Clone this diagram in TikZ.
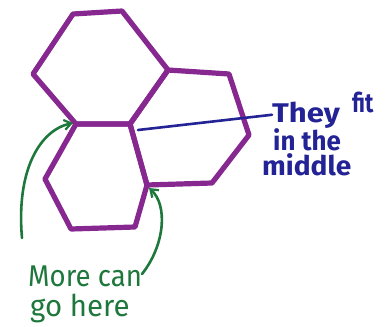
\documentclass[tikz,border=0pt]{standalone}
\usepackage{fontspec}
\setmainfont{Fira Sans}
\usetikzlibrary{arrows.meta}
\definecolor{hexpurple}{RGB}{135,40,145}
\definecolor{penblue}{RGB}{35,35,150}
\definecolor{pengreen}{RGB}{30,120,60}
\tikzset{
  hexline/.style={draw=hexpurple, line width=5.2pt, line join=round, line cap=round},
  bluepen/.style={draw=penblue, line width=2.6pt, line cap=round},
  greenpen/.style={draw=pengreen, line width=2.6pt, line cap=round, -{Straight Barb[length=7pt,width=10pt,line width=2.2pt]}},
  bluetext/.style={text=penblue, font=\fontsize{27}{27}\selectfont\bfseries, inner sep=0pt, anchor=base west},
  greentext/.style={text=pengreen, font=\fontsize{30}{30}\selectfont, inner sep=0pt, anchor=base west}
}
\begin{document}
\begin{tikzpicture}[x=1pt,y=-1pt]
\useasboundingbox (0,0) rectangle (386,327);
% shared vertices
\coordinate (a) at (73,14);
\coordinate (b) at (122,11);
\coordinate (c) at (168,70);
\coordinate (d) at (130,124);
\coordinate (e) at (76,124);
\coordinate (f) at (33,74);
\coordinate (g) at (229,74);
\coordinate (h) at (249,135);
\coordinate (i) at (212,183);
\coordinate (j) at (147,185);
\coordinate (k) at (135,227);
\coordinate (l) at (71,229);
\coordinate (m) at (45,179);
% hexagons
\draw[hexline] (a) -- (b) -- (c) -- (d) -- (e) -- (f) -- cycle;
\draw[hexline] (c) -- (g) -- (h) -- (i) -- (j) -- (d) -- cycle;
\draw[hexline] (e) -- (d) -- (j) -- (k) -- (l) -- (m) -- cycle;
% blue label
\node[bluetext] (they) at (272,122) {\scalebox{1.15}[1]{They}};
\node[bluetext] (fit) at (352,112) {\scalebox{0.8}[1]{fit}};
\node[bluetext] (inthe) at (273,150) {\scalebox{0.96}[1]{in the}};
\node[bluetext] (middle) at (262,175) {\scalebox{1.04}[1]{middle}};
\coordinate (bluestart) at (138,130);
\draw[bluepen] (bluestart) -- (they.west);
% green label
\node[greentext] (more) at (28,286) {\scalebox{0.92}[1]{More can}};
\node[greentext] (gohere) at (30,316) {\scalebox{0.98}[1]{go here}};
\coordinate (lstart) at (22,238);
\coordinate (rstart) at (142,274);
\draw[greenpen] (lstart) .. controls (16,170) and (40,130) .. (73,123);
\draw[greenpen] (rstart) .. controls (165,245) and (168,205) .. (149,188);
\end{tikzpicture}
\end{document}
